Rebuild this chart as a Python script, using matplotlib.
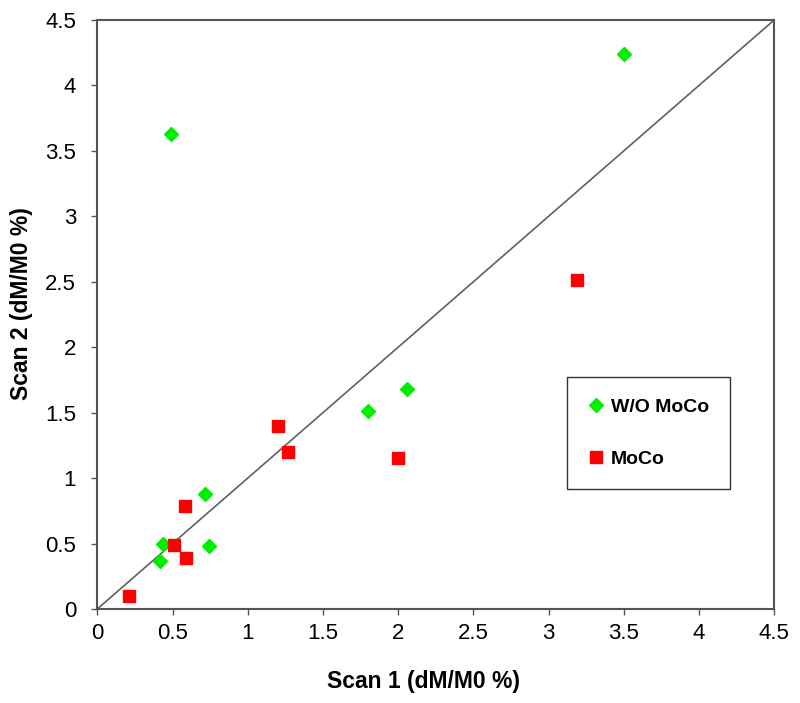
import matplotlib
matplotlib.use('Agg')
import matplotlib.pyplot as plt

plt.rcParams['font.family'] = ['Liberation Sans', 'DejaVu Sans']

# scan 1 vs scan 2 values (dM/M0 %)
wo_moco_x = [0.49, 3.50, 2.06, 1.80, 0.715, 0.437, 0.742, 0.42]
wo_moco_y = [3.63, 4.24, 1.68, 1.51, 0.88, 0.50, 0.48, 0.37]
moco_x = [3.19, 1.20, 1.27, 2.00, 0.58, 0.51, 0.59, 0.21]
moco_y = [2.51, 1.40, 1.20, 1.15, 0.79, 0.49, 0.39, 0.10]
ticks = [0, 0.5, 1, 1.5, 2, 2.5, 3, 3.5, 4, 4.5]
tick_labels = ['0', '0.5', '1', '1.5', '2', '2.5', '3', '3.5', '4', '4.5']

fig = plt.figure(figsize=(8, 7.03), dpi=100)
ax = fig.add_axes([0.1216, 0.1337, 0.8463, 0.838])

# identity line
ax.plot([0, 4.5], [0, 4.5], color='#606060', linewidth=1.2, zorder=1)

ax.plot(wo_moco_x, wo_moco_y, 'D', color='#00ee00', markersize=7,
        linestyle='none', label='W/O MoCo', zorder=3)
ax.plot(moco_x, moco_y, 's', color='#ff0000', markersize=9,
        linestyle='none', label='MoCo', zorder=3)

ax.set_xlim(0, 4.5)
ax.set_ylim(0, 4.5)
ax.set_xticks(ticks)
ax.set_xticklabels(tick_labels)
ax.set_yticks(ticks)
ax.set_yticklabels(tick_labels)
ax.tick_params(direction='out', length=4.3, width=1, color='#555555',
               labelsize=16)
ax.tick_params(axis='x', pad=6)
ax.tick_params(axis='y', pad=11)
for s in ax.spines.values():
    s.set_color('#555555')
    s.set_linewidth(1.5)

ax.set_xlabel('Scan 1 (dM/M0 %)', fontsize=16.5, fontweight='bold')
ax.set_ylabel('Scan 2 (dM/M0 %)', fontsize=16.5, fontweight='bold')
ax.xaxis.set_label_coords(0.4815, -0.103)
ax.yaxis.set_label_coords(-0.0945, 0.5187)

leg = ax.legend(loc='upper left', bbox_to_anchor=(0.694, 0.394),
                prop={'weight': 'bold', 'size': 14}, frameon=True,
                fancybox=False, edgecolor='#333333', framealpha=1,
                handlelength=0.8, handletextpad=0.35, labelspacing=1.75,
                borderpad=1.1, borderaxespad=0, numpoints=1)
leg.get_frame().set_linewidth(1.0)

fig.savefig('out.png', dpi=100)
